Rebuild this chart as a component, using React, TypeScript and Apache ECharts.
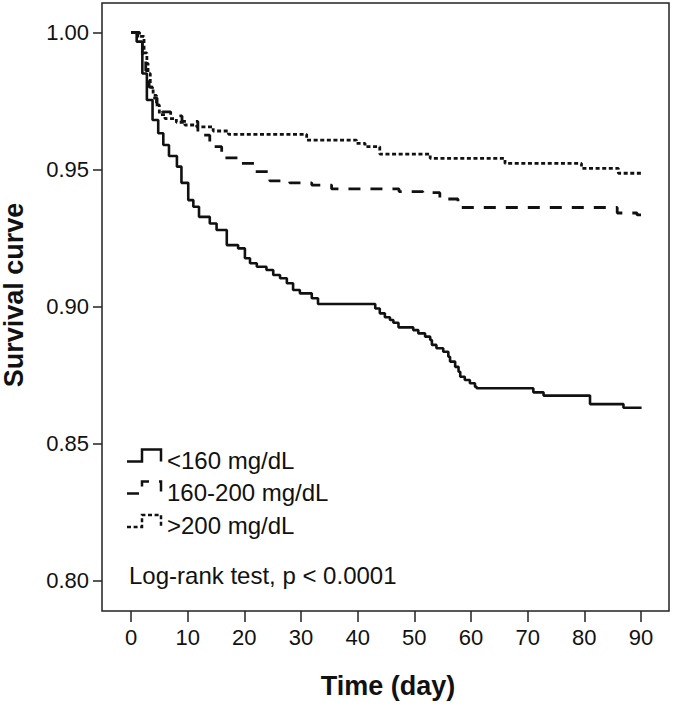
import React, { useEffect, useRef } from "react";
import * as echarts from "echarts";

// <160 mg/dL (solid)
const lowTimes = [0, 1.0, 2.0, 2.8, 3.8, 4.8, 5.7, 6.7, 8.1, 8.9, 10.1, 11.0, 12.0, 13.9, 15.1, 16.9, 18.9, 20.1, 21.0, 22.2, 23.9, 25.1, 26.3, 27.5, 28.6, 29.8, 31.9, 33.0, 43.1, 43.9, 44.8, 45.7, 46.3, 47.2, 49.8, 50.7, 51.9, 52.8, 53.1, 53.9, 55.1, 56.0, 56.3, 57.2, 57.8, 58.1, 58.9, 59.8, 60.7, 61.0, 71.0, 72.8, 81.0, 86.9, 90.1];
const lowSurv = [1.0, 0.9966, 0.985, 0.9753, 0.968, 0.9632, 0.9589, 0.9549, 0.951, 0.9451, 0.9388, 0.9364, 0.9327, 0.9303, 0.9279, 0.9224, 0.9212, 0.9176, 0.9158, 0.9145, 0.9133, 0.9115, 0.9103, 0.9085, 0.906, 0.9048, 0.903, 0.9009, 0.8993, 0.8975, 0.8961, 0.8951, 0.8941, 0.8924, 0.8914, 0.8902, 0.889, 0.8878, 0.886, 0.8848, 0.8835, 0.8817, 0.8799, 0.878, 0.8762, 0.8744, 0.8732, 0.872, 0.8707, 0.8702, 0.8687, 0.8675, 0.8644, 0.8631, 0.8631];

// 160-200 mg/dL (dashed)
const midTimes = [0, 1.2, 2.0, 2.6, 3.2, 3.8, 4.6, 5.5, 7.0, 9.0, 11.8, 13.9, 16.0, 18.9, 21.9, 24.5, 28.0, 31.9, 35.4, 47.3, 51.5, 54.5, 57.7, 85.8, 89.3, 90.0];
const midSurv = [1.0, 0.997, 0.991, 0.986, 0.98, 0.976, 0.973, 0.971, 0.9695, 0.9675, 0.9625, 0.9583, 0.9542, 0.9522, 0.9492, 0.9458, 0.9451, 0.9443, 0.9429, 0.9419, 0.9415, 0.9392, 0.9361, 0.9341, 0.9334, 0.9334];

// >200 mg/dL (dotted)
const highTimes = [0, 1.5, 2.3, 2.8, 3.0, 3.4, 3.9, 4.5, 5.0, 6.0, 8.0, 9.5, 11.6, 14.5, 17.2, 31.0, 39.8, 41.3, 43.9, 52.8, 66.0, 79.5, 86.0, 90.0];
const highSurv = [1.0, 0.9985, 0.9925, 0.9887, 0.985, 0.98, 0.977, 0.9735, 0.97, 0.9685, 0.9672, 0.9662, 0.9655, 0.964, 0.9628, 0.9607, 0.9595, 0.9583, 0.9556, 0.954, 0.9522, 0.9504, 0.9486, 0.9486];

const xTicks = [0, 10, 20, 30, 40, 50, 60, 70, 80, 90];
const yTicks = [0.8, 0.85, 0.9, 0.95, 1.0];
const groupNames = ["<160 mg/dL", "160-200 mg/dL", ">200 mg/dL"];
const testText = "Log-rank test, p < 0.0001";

const FONT = "'Liberation Sans', Arial, Helvetica, sans-serif";
const INK = "#111";

export default function App() {
  const ref = useRef<HTMLDivElement>(null);
  useEffect(() => {
    if (!ref.current) return;
    const chart = echarts.init(ref.current, null, { renderer: "svg" });
    const toData = (ts: number[], ss: number[]) => ts.map((t, i) => [t, ss[i]]);
    const dashes: any[] = ["solid", [12, 10], [4, 2.6]];
    const legendBase = [461.5, 493.5, 527];
    const legendText = [460, 492, 525];
    const graphics: any[] = [];
    groupNames.forEach((name, i) => {
      const b = legendBase[i];
      graphics.push({
        type: "polyline",
        shape: { points: [[127, b], [142, b], [142, b - 12], [161, b - 12], [161, b]] },
        style: { stroke: INK, lineWidth: 2.5, fill: null, lineDash: i === 0 ? null : dashes[i] },
        silent: true,
      });
      graphics.push({
        type: "text",
        x: 167,
        y: legendText[i],
        style: { text: name, font: `24px ${FONT}`, fill: INK, textVerticalAlign: "middle" },
      });
    });
    graphics.push({
      type: "text",
      x: 129,
      y: 575,
      style: { text: testText, font: `24px ${FONT}`, fill: INK, textVerticalAlign: "middle" },
    });
    graphics.push({
      type: "text",
      x: 388,
      y: 686,
      style: { text: "Time (day)", font: `bold 27px ${FONT}`, fill: INK, textAlign: "center", textVerticalAlign: "middle" },
    });
    graphics.push({
      type: "text",
      x: 14,
      y: 295,
      rotation: Math.PI / 2,
      style: { text: "Survival curve", font: `bold 27px ${FONT}`, fill: INK, textAlign: "center", textVerticalAlign: "middle" },
    });

    chart.setOption({
      animation: false,
      backgroundColor: "#fff",
      grid: { left: 102, top: 3, width: 567, height: 608, show: true, borderColor: "#222", borderWidth: 1.5, backgroundColor: "transparent" },
      xAxis: {
        type: "value",
        min: -5.12,
        max: 94.94,
        axisLine: { show: false, onZero: false },
        splitLine: { show: false },
        axisTick: { show: true, customValues: xTicks, length: 11, inside: false, lineStyle: { color: "#222", width: 1.5 } },
        axisLabel: { customValues: xTicks, fontSize: 22, fontFamily: FONT, color: INK, margin: 15 },
      },
      yAxis: {
        type: "value",
        min: 0.78895,
        max: 1.01069,
        axisLine: { show: false, onZero: false },
        splitLine: { show: false },
        axisTick: { show: true, customValues: yTicks, length: 9, inside: false, lineStyle: { color: "#222", width: 1.5 } },
        axisLabel: { customValues: yTicks, fontSize: 22, fontFamily: FONT, color: INK, margin: 13, formatter: (v: number) => v.toFixed(2) },
      },
      graphic: graphics,
      series: [
        { name: groupNames[0], type: "line", step: "end", showSymbol: false, data: toData(lowTimes, lowSurv), lineStyle: { color: INK, width: 2.6, type: "solid" } },
        { name: groupNames[1], type: "line", step: "end", showSymbol: false, data: toData(midTimes, midSurv), lineStyle: { color: INK, width: 2.8, type: dashes[1] } },
        { name: groupNames[2], type: "line", step: "end", showSymbol: false, data: toData(highTimes, highSurv), lineStyle: { color: INK, width: 2.8, type: dashes[2] } },
      ],
    });
    return () => chart.dispose();
  }, []);
  return <div ref={ref} style={{ position: "absolute", left: 0, top: 0, width: 675, height: 704 }} />;
}
